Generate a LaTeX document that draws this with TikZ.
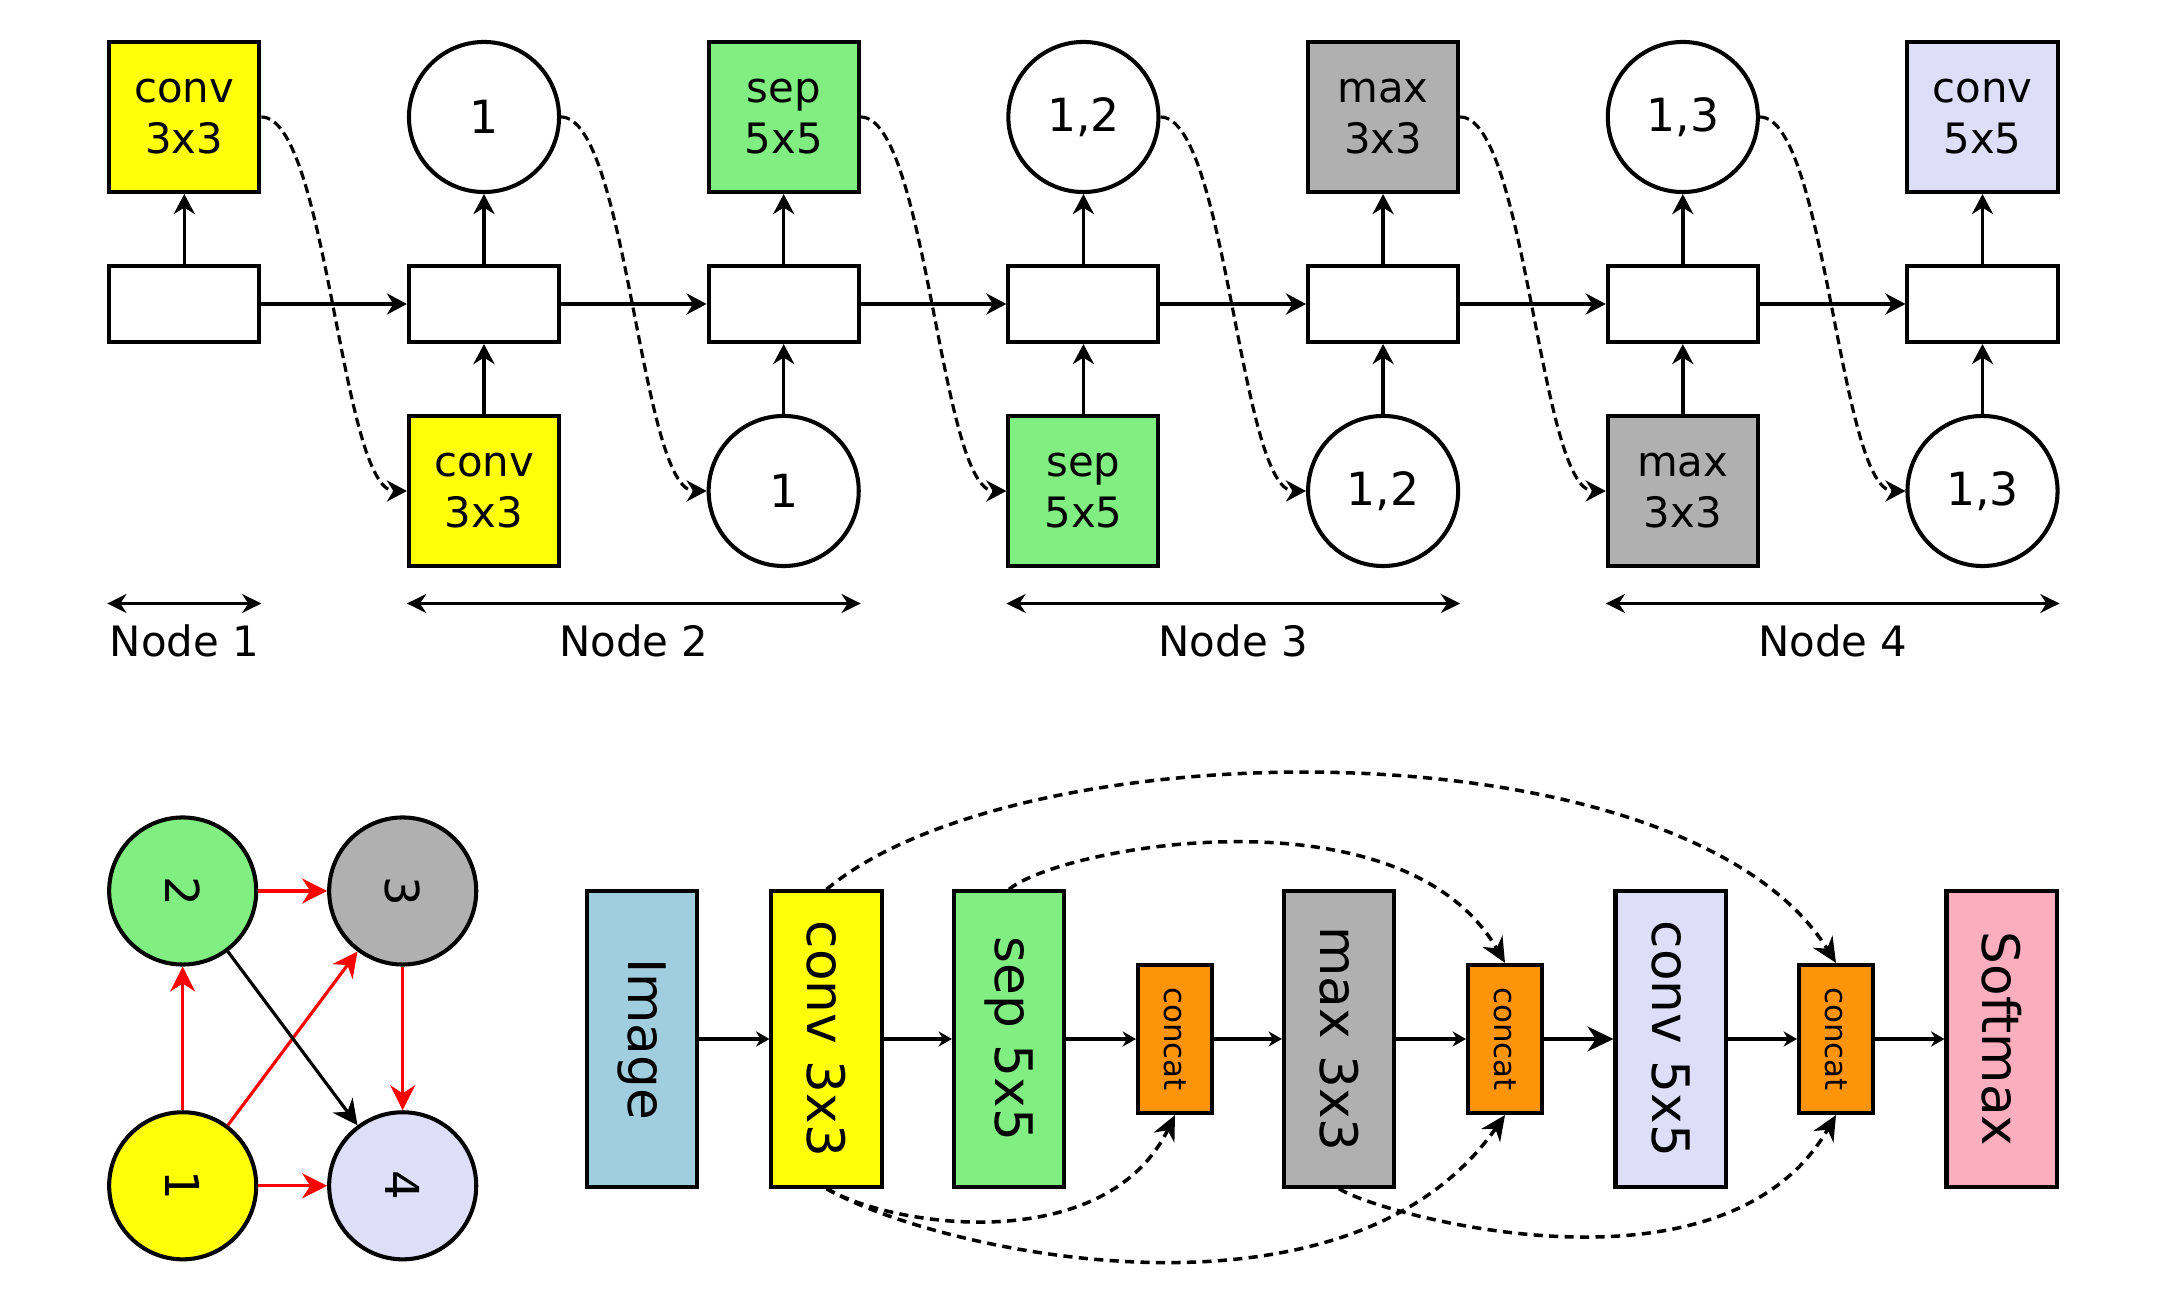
\documentclass[tikz,border=0pt]{standalone}
\usepackage{fontspec}
\usepackage{graphicx}
\setmainfont{DejaVu Sans}
\usetikzlibrary{arrows.meta,calc}
\definecolor{cyel}{RGB}{255,255,10}
\definecolor{cgrn}{RGB}{128,238,128}
\definecolor{cgry}{RGB}{176,176,176}
\definecolor{clav}{RGB}{222,222,248}
\definecolor{cblu}{RGB}{160,206,222}
\definecolor{corg}{RGB}{253,148,10}
\definecolor{cpnk}{RGB}{251,175,190}
\definecolor{cred}{RGB}{255,0,0}
\begin{document}
\begin{tikzpicture}[x=0.01cm,y=0.01cm,
  opbox/.style={draw,line width=1.15pt,minimum width=1.5cm,minimum height=1.5cm,inner sep=0pt,align=center,font=\fontsize{11.9}{14.5}\selectfont,execute at begin node={\vphantom{l}}},
  opcirc/.style={draw,circle,line width=1.15pt,minimum size=1.5cm,inner sep=0pt,font=\fontsize{13}{15}\selectfont},
  midbox/.style={draw,line width=1.15pt,minimum width=1.5cm,minimum height=0.76cm,inner sep=0pt},
  arr/.style={-{Stealth[length=5.7pt,width=6pt]},line width=1pt},
  tdash/.style={-{Stealth[length=5.7pt,width=6pt]},line width=0.9pt,dash pattern=on 2.6pt off 1.4pt},
  larr/.style={{Stealth[length=5.5pt,width=5.4pt]}-{Stealth[length=5.5pt,width=5.4pt]},line width=0.6pt},
  lab/.style={inner sep=0pt,font=\fontsize{11.9}{14.5}\selectfont},
  gcirc/.style={draw,circle,line width=1.15pt,minimum size=1.47cm,inner sep=0pt,font=\fontsize{13.3}{15}\selectfont},
  redarr/.style={-{Stealth[length=7.1pt,width=7.1pt]},line width=0.9pt,draw=cred},
  blkarr/.style={-{Stealth[length=7.1pt,width=7.1pt]},line width=0.9pt,draw=black},
  pbig/.style={draw,line width=1.15pt,minimum width=1.1cm,minimum height=2.95cm,inner sep=0pt,font=\fontsize{14.7}{17}\selectfont},
  pcat/.style={draw,line width=1.15pt,minimum width=0.74cm,minimum height=1.48cm,inner sep=0pt,fill=corg,font=\fontsize{8.8}{10}\selectfont},
  parr/.style={-{Stealth[length=3.8pt,width=4.3pt]},line width=0.95pt},
  pbigarr/.style={-{Stealth[length=7.4pt,width=7.1pt]},line width=0.95pt},
  pdash/.style={-{Stealth[length=7.1pt,width=6.5pt]},line width=1pt,dash pattern=on 2.6pt off 1.8pt}
]
\useasboundingbox (0,0) rectangle (2166,-1292);

% ---------- top row ----------
\node[opbox,fill=cyel] (t0) at (184.3,-117) {conv\\3x3};
\node[opcirc] (t1) at (484,-117) {1};
\node[opbox,fill=cgrn] (t2) at (783.7,-117) {sep\\5x5};
\node[opcirc] (t3) at (1083.4,-117) {1,2};
\node[opbox,fill=cgry] (t4) at (1383.1,-117) {max\\3x3};
\node[opcirc] (t5) at (1682.8,-117) {1,3};
\node[opbox,fill=clav] (t6) at (1982.5,-117) {conv\\5x5};

\node[midbox] (m0) at (184.3,-304) {};
\node[midbox] (m1) at (484,-304) {};
\node[midbox] (m2) at (783.7,-304) {};
\node[midbox] (m3) at (1083.4,-304) {};
\node[midbox] (m4) at (1383.1,-304) {};
\node[midbox] (m5) at (1682.8,-304) {};
\node[midbox] (m6) at (1982.5,-304) {};

\node[opbox,fill=cyel] (b1) at (484,-491) {conv\\3x3};
\node[opcirc] (b2) at (783.7,-491) {1};
\node[opbox,fill=cgrn] (b3) at (1083.4,-491) {sep\\5x5};
\node[opcirc] (b4) at (1383.1,-491) {1,2};
\node[opbox,fill=cgry] (b5) at (1682.8,-491) {max\\3x3};
\node[opcirc] (b6) at (1982.5,-491) {1,3};

\foreach \i in {0,...,6} \draw[arr] (m\i) -- (t\i);
\foreach \i in {1,...,6} \draw[arr] (b\i) -- (m\i);
\foreach \i/\j in {0/1,1/2,2/3,3/4,4/5,5/6} {
  \draw[arr] (m\i) -- (m\j);
  \draw[tdash] (t\i.east) to[out=0,in=180,looseness=0.42] (b\j.west);
}

% ---------- node labels ----------
\coordinate (rowl) at (0,-603.5);
\coordinate (l1a) at (t0.west |- rowl);
\coordinate (l1b) at (t0.east |- rowl);
\coordinate (l2a) at (b1.west |- rowl);
\coordinate (l2b) at (b2.east |- rowl);
\coordinate (l3a) at (b3.west |- rowl);
\coordinate (l3b) at (b4.east |- rowl);
\coordinate (l4a) at (b5.west |- rowl);
\coordinate (l4b) at (b6.east |- rowl);
\draw[larr] (l1a) -- (l1b);
\draw[larr] (l2a) -- (l2b);
\draw[larr] (l3a) -- (l3b);
\draw[larr] (l4a) -- (l4b);
\node[lab,yshift=-0.375cm] (n1) at ($(l1a)!0.5!(l1b)$) {Node 1};
\node[lab,yshift=-0.375cm] (n2) at ($(l2a)!0.5!(l2b)$) {Node 2};
\node[lab,yshift=-0.375cm] (n3) at ($(l3a)!0.5!(l3b)$) {Node 3};
\node[lab,yshift=-0.375cm] (n4) at ($(l4a)!0.5!(l4b)$) {Node 4};

% ---------- small graph ----------
\node[gcirc,fill=cyel] (g1) at (182.7,-1185.8) {\rotatebox{-90}{1}};
\node[gcirc,fill=cgrn] (g2) at (182.7,-891) {\rotatebox{-90}{2}};
\node[gcirc,fill=cgry] (g3) at (402.7,-891) {\rotatebox{-90}{3}};
\node[gcirc,fill=clav] (g4) at (402.7,-1185.8) {\rotatebox{-90}{4}};
\draw[redarr] (g1) -- (g2);
\draw[redarr] (g2) -- (g3);
\draw[redarr] (g1) -- (g3);
\draw[redarr] (g1) -- (g4);
\draw[redarr] (g3) -- (g4);
\draw[blkarr] (g2) -- (g4);

% ---------- pipeline ----------
\node[pbig,fill=cblu] (p0) at (642,-1039) {\rotatebox{-90}{Image}};
\node[pbig,fill=cyel] (p1) at (826.5,-1039) {\rotatebox{-90}{conv 3x3}};
\node[pbig,fill=cgrn] (p2) at (1009,-1039) {\rotatebox{-90}{sep 5x5}};
\node[pcat] (c1) at (1175,-1039) {\rotatebox{-90}{concat}};
\node[pbig,fill=cgry] (p3) at (1339,-1039) {\rotatebox{-90}{max 3x3}};
\node[pcat] (c2) at (1505,-1039) {\rotatebox{-90}{concat}};
\node[pbig,fill=clav] (p4) at (1670.5,-1039) {\rotatebox{-90}{conv 5x5}};
\node[pcat] (c3) at (1836,-1039) {\rotatebox{-90}{concat}};
\node[pbig,fill=cpnk] (p5) at (2001.5,-1039) {\rotatebox{-90}{Softmax}};

\draw[parr] (p0) -- (p1);
\draw[parr] (p1) -- (p2);
\draw[parr] (p2) -- (c1);
\draw[parr] (c1) -- (p3);
\draw[parr] (p3) -- (c2);
\draw[pbigarr] (c2) -- (p4);
\draw[parr] (p4) -- (c3);
\draw[parr] (c3) -- (p5);

\draw[pdash] (p1.north) .. controls +(40:251) and +(122:287) .. (c3.north);
\draw[pdash] (p2.north) .. controls +(40:66) and +(120:206) .. (c2.north);
\draw[pdash] (p1.south) .. controls +(-30:80) and +(244:157) .. (c1.south);
\draw[pdash] (p1.south) .. controls +(-30:127) and +(235:277) .. (c2.south);
\draw[pdash] (p3.south) .. controls +(-35:41) and +(240:228) .. (c3.south);
\end{tikzpicture}
\end{document}
